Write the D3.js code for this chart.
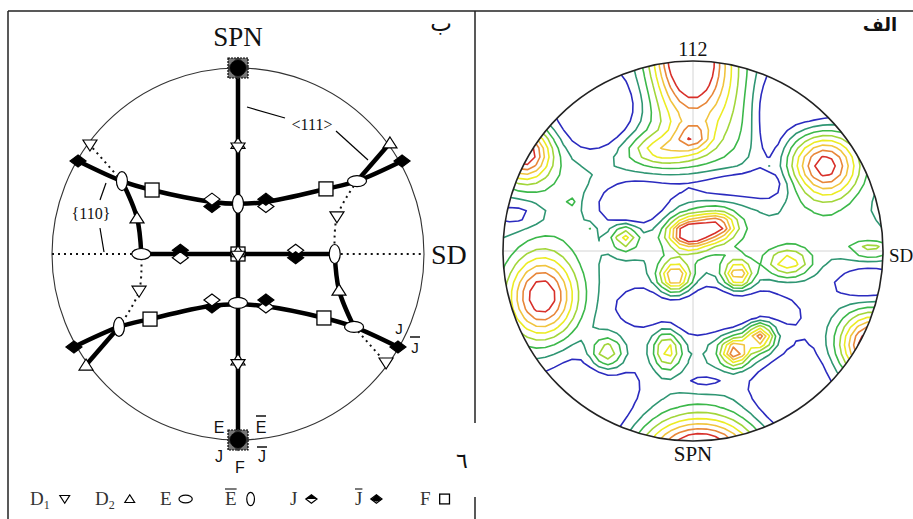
<!DOCTYPE html>
<html>
<head>
<meta charset="utf-8">
<script src="https://cdn.jsdelivr.net/npm/d3@7"></script>
<style>
body { margin: 0; background: #fff; }
svg { display: block; }
</style>
</head>
<body>
<svg id="fig" width="913" height="519"></svg>
<script>
/*globals d3 */
(function () {
    'use strict';

    // ---- left panel (ب): schematic pole figure, unit circle coords, y up ----
    var thickPaths = [
        [[0, 1], [0, -1]],
        [[-0.86, 0.5], [-0.624, 0.392], [-0.462, 0.344], [-0.14, 0.28], [0, 0.27], [0.15, 0.28], [0.473, 0.35], [0.64, 0.392], [0.882, 0.5]],
        [[0.64, 0.392], [0.817, 0.597]],
        [[-0.624, 0.392], [-0.543, 0.194], [-0.52, 0]],
        [[-0.52, 0], [0.52, 0]],
        [[0.86, -0.5], [0.624, -0.392], [0.462, -0.344], [0.14, -0.28], [0, -0.27], [-0.15, -0.28], [-0.473, -0.35], [-0.64, -0.392], [-0.882, -0.5]],
        [[-0.64, -0.392], [-0.817, -0.597]],
        [[0.624, -0.392], [0.543, -0.194], [0.52, 0]]
    ];
    var dottedPaths = [
        [[-1, 0], [-0.52, 0]],
        [[0.52, 0], [1, 0]],
        [[-0.624, 0.392], [-0.796, 0.586]],
        [[0.64, 0.392], [0.532, 0.2], [0.52, 0]],
        [[-0.64, -0.392], [-0.532, -0.2], [-0.52, 0]],
        [[0.624, -0.392], [0.796, -0.586]]
    ];
    // [type, x, y]
    var symbols = [
        ["dn", -0.796, 0.586], ["up", 0.817, 0.597],
        ["jf", -0.86, 0.5], ["jf", 0.882, 0.5],
        ["ev", -0.624, 0.392], ["eh", 0.64, 0.392],
        ["sq", -0.462, 0.344], ["sq", 0.473, 0.35],
        ["jf", -0.14, 0.255], ["jo", -0.14, 0.295],
        ["jo", 0.15, 0.255], ["jf", 0.15, 0.295],
        ["ev", 0, 0.27],
        ["up", 0, 0.595], ["dn", 0, 0.57],
        ["up", -0.543, 0.194], ["dn", 0.532, 0.2],
        ["jf", -0.31, 0.02], ["jo", -0.31, -0.02],
        ["jo", 0.31, 0.02], ["jf", 0.31, -0.02],
        ["eh", -0.52, 0], ["ev", 0.52, 0],
        ["sq", 0, 0], ["up", 0, 0.012], ["dn", 0, -0.012],
        ["dn", -0.532, -0.2], ["up", 0.543, -0.194],
        ["jf", 0.86, -0.5], ["jf", -0.882, -0.5],
        ["up", -0.817, -0.597], ["dn", 0.796, -0.586],
        ["ev", -0.64, -0.392], ["eh", 0.624, -0.392],
        ["sq", -0.473, -0.35], ["sq", 0.462, -0.344],
        ["jf", -0.14, -0.285], ["jo", -0.14, -0.247],
        ["jo", 0.15, -0.285], ["jf", 0.15, -0.247],
        ["eh", 0, -0.263],
        ["up", 0, -0.57], ["dn", 0, -0.595],
        ["pole", 0, 1], ["pole", 0, -1]
    ];
    var legendLabels = ["D", "D", "E", "E", "J", "J", "F"];
    var legendSubs = ["1", "2", "", "", "", "", ""];
    var legendBars = [false, false, false, true, false, true, false];
    var legendSyms = ["dn", "up", "eh", "ev", "jt", "jb", "sq"];

    // ---- right panel (الف): 112 pole figure, density peaks [x, y, amp, sx, sy] ----
    var base = 1.5;
    var peaks = [
        [-0.026, 1.068, 8.5, 0.132, 0.237],
        [0.142, 0.847, 2.5, 0.184, 0.21],
        [0, 0.6, 3, 0.063, 0.047],
        [-0.174, 0.532, 2.5, 0.116, 0.053],
        [-0.121, 0.558, 1.5, 0.263, 0.132],
        [-0.889, 0.516, 7.5, 0.1, 0.1],
        [0.695, 0.447, 7.3, 0.126, 0.126],
        [-0.016, 0.095, 7, 0.074, 0.053],
        [0.132, 0.132, 5, 0.063, 0.047],
        [0.037, 0.1, 2, 0.21, 0.13],
        [-0.095, -0.137, 5.8, 0.058, 0.058],
        [0.237, -0.126, 5.5, 0.053, 0.053],
        [0.5, -0.063, 4, 0.084, 0.053],
        [-0.358, 0.074, 3.8, 0.047, 0.047],
        [-0.795, -0.242, 7.5, 0.13, 0.16],
        [-0.453, -0.537, 4, 0.063, 0.063],
        [-0.137, -0.521, 4.2, 0.053, 0.074],
        [0.221, -0.532, 5.5, 0.047, 0.047],
        [0.353, -0.447, 5.5, 0.047, 0.047],
        [0.289, -0.489, 2, 0.158, 0.095],
        [0.942, -0.495, 8, 0.116, 0.116],
        [0.037, -1.053, 7, 0.21, 0.116],
        [0.037, -1.016, 1.5, 0.263, 0.184],
        [0.942, 0.005, 3, 0.079, 0.026],
        [-0.621, 0.268, 1.2, 0.26, 0.18],
        [0.721, 0.084, 1, 0.24, 0.1],
        [-0.647, 0.253, 1.3, 0.021, 0.021],
        [-0.553, 0.111, 1.3, 0.021, 0.021],
        [0.395, 0.447, 1.2, 0.021, 0.021],
        // low pockets
        [-0.5, 0.721, -3, 0.147, 0.147],
        [0.589, 0.821, -2.5, 0.21, 0.147],
        [0.405, 0.584, -1.5, 0.063, 0.184],
        [-0.321, 0.242, -3, 0.158, 0.095],
        [0.195, 0.347, -2, 0.237, 0.053],
        [0.132, -0.326, -2.6, 0.221, 0.089],
        [-0.279, -0.284, -1.6, 0.079, 0.053],
        [-0.568, -0.826, -2.4, 0.2, 0.2],
        [0.511, -0.747, -2.4, 0.158, 0.2],
        [0.921, -0.179, -1.8, 0.116, 0.063],
        [-0.921, 0.195, -1.6, 0.105, 0.053],
        [0.063, -0.689, -1.3, 0.084, 0.032]
    ];
    var levels = [1, 2, 3, 4, 5, 6, 7, 8];
    var levelColors = ["#2b2bbf", "#2f9673", "#3cb84a", "#a2d63a", "#ecec24", "#f1c43e", "#e8873a", "#d8302a"];

    var svg = d3.select("#fig");
    var serif = "'Liberation Serif', 'Times New Roman', serif";
    var sans = "'Liberation Sans', Arial, sans-serif";
    var arabic = "'DejaVu Sans', sans-serif";

    // frame
    var frame = [[8, 11, 913, 11], [8, 11, 8, 519], [475, 11, 475, 423], [475, 497, 475, 519]];
    svg.selectAll("line.frame")
        .data(frame)
        .enter()
        .append("line")
        .attr("class", "frame")
        .attr("x1", function (d) { return d[0]; })
        .attr("y1", function (d) { return d[1]; })
        .attr("x2", function (d) { return d[2]; })
        .attr("y2", function (d) { return d[3]; })
        .attr("stroke", "#222")
        .attr("stroke-width", 1.5);

    // ---------------- left panel ----------------
    var xL = d3.scaleLinear().domain([-1, 1]).range([52, 424]);
    var yL = d3.scaleLinear().domain([-1, 1]).range([440, 68]);
    var left = svg.append("g");

    left.append("circle")
        .attr("cx", xL(0))
        .attr("cy", yL(0))
        .attr("r", xL(1) - xL(0))
        .attr("fill", "none")
        .attr("stroke", "#333")
        .attr("stroke-width", 1.1);

    var lineL = d3.line()
        .x(function (d) { return xL(d[0]); })
        .y(function (d) { return yL(d[1]); })
        .curve(d3.curveCatmullRom);

    left.selectAll("path.dot")
        .data(dottedPaths)
        .enter()
        .append("path")
        .attr("d", lineL)
        .attr("fill", "none")
        .attr("stroke", "#111")
        .attr("stroke-width", 2)
        .attr("stroke-dasharray", "2,4");

    left.selectAll("path.thick")
        .data(thickPaths)
        .enter()
        .append("path")
        .attr("d", lineL)
        .attr("fill", "none")
        .attr("stroke", "#000")
        .attr("stroke-width", 4.5)
        .attr("stroke-linejoin", "round");

    function drawSymbol(g, type, s) {
        var k = s || 1;
        if (type === "up") {
            g.append("path").attr("d", "M0," + (-6 * k) + "L" + (7 * k) + "," + (5 * k) + "L" + (-7 * k) + "," + (5 * k) + "Z")
                .attr("fill", "#fff").attr("stroke", "#000").attr("stroke-width", 1.2);
        } else if (type === "dn") {
            g.append("path").attr("d", "M0," + (6 * k) + "L" + (7 * k) + "," + (-5 * k) + "L" + (-7 * k) + "," + (-5 * k) + "Z")
                .attr("fill", "#fff").attr("stroke", "#000").attr("stroke-width", 1.2);
        } else if (type === "ev" || type === "eh") {
            g.append("ellipse")
                .attr("rx", (type === "ev" ? 5.5 : 9.5) * k)
                .attr("ry", (type === "ev" ? 9.5 : 5.5) * k)
                .attr("fill", "#fff").attr("stroke", "#000").attr("stroke-width", 1.2);
        } else if (type === "sq") {
            g.append("rect").attr("x", -7 * k).attr("y", -7 * k).attr("width", 14 * k).attr("height", 14 * k)
                .attr("fill", "#fff").attr("stroke", "#000").attr("stroke-width", 1.3);
        } else if (type === "jf" || type === "jo") {
            g.append("path").attr("d", "M0," + (-6 * k) + "L" + (8 * k) + ",0L0," + (6 * k) + "L" + (-8 * k) + ",0Z")
                .attr("fill", type === "jf" ? "#000" : "#fff").attr("stroke", "#000").attr("stroke-width", 1.2);
        } else if (type === "jt" || type === "jb") {
            g.append("path").attr("d", "M0," + (-6 * k) + "L" + (8 * k) + ",0L0," + (6 * k) + "L" + (-8 * k) + ",0Z")
                .attr("fill", "#fff").attr("stroke", "#000").attr("stroke-width", 1.2);
            g.append("path").attr("d", type === "jt"
                    ? "M0," + (-6 * k) + "L" + (8 * k) + ",0L" + (-8 * k) + ",0Z"
                    : "M0," + (-6 * k) + "L" + (8 * k) + "," + (1 * k) + "L0," + (4 * k) + "L" + (-8 * k) + "," + (1 * k) + "Z")
                .attr("fill", "#000");
        } else if (type === "pole") {
            g.append("rect").attr("x", -10).attr("y", -10).attr("width", 20).attr("height", 20)
                .attr("fill", "#777").attr("stroke", "#000").attr("stroke-width", 1.2).attr("stroke-dasharray", "2,1");
            g.append("rect").attr("x", -8).attr("y", -8).attr("width", 16).attr("height", 16)
                .attr("transform", "rotate(45)").attr("fill", "#333");
            g.append("circle").attr("r", 8).attr("fill", "#000");
        }
    }

    left.selectAll("g.sym")
        .data(symbols)
        .enter()
        .append("g")
        .attr("class", "sym")
        .attr("transform", function (d) { return "translate(" + xL(d[1]) + "," + yL(d[2]) + ")"; })
        .each(function (d) { drawSymbol(d3.select(this), d[0]); });

    // leader lines for <111> and {110}
    var leaders = [[247, 107, 285, 118], [336, 131, 368, 160], [100, 200, 106, 183], [100, 228, 104, 252]];
    left.selectAll("line.lead")
        .data(leaders)
        .enter()
        .append("line")
        .attr("x1", function (d) { return d[0]; })
        .attr("y1", function (d) { return d[1]; })
        .attr("x2", function (d) { return d[2]; })
        .attr("y2", function (d) { return d[3]; })
        .attr("stroke", "#000")
        .attr("stroke-width", 1.2);

    function label(g, x, y, txt, size, family, anchor, weight) {
        return g.append("text")
            .attr("x", x)
            .attr("y", y)
            .attr("text-anchor", anchor || "middle")
            .style("font-family", family)
            .style("font-size", size + "px")
            .style("font-weight", weight || "normal")
            .style("fill", "#111")
            .text(txt);
    }

    label(left, xL(0), 46, "SPN", 27, serif);
    label(left, 431, 264, "SD", 28, serif, "start");
    label(left, 441, 31, "ب", 23, arabic);
    label(left, 312, 130, "<111>", 16, serif);
    label(left, 91, 219, "{110}", 16, serif);
    label(left, 219, 433, "E", 16, sans);
    label(left, 261, 433, "E", 16, sans);
    label(left, 219, 462, "J", 16, sans);
    label(left, 240, 473, "F", 16, sans);
    label(left, 262, 462, "J", 16, sans);
    label(left, 399, 334, "J", 15, sans);
    label(left, 415, 353, "J", 15, sans);
    // overbars
    var bars = [[256, 416, 266], [257, 447, 267], [410, 337, 420]];
    left.selectAll("line.bar")
        .data(bars)
        .enter()
        .append("line")
        .attr("x1", function (d) { return d[0]; })
        .attr("x2", function (d) { return d[2]; })
        .attr("y1", function (d) { return d[1]; })
        .attr("y2", function (d) { return d[1]; })
        .attr("stroke", "#111")
        .attr("stroke-width", 1.5);
    label(left, 462, 468, "٦", 22, arabic);

    // legend row
    var xLeg = d3.scalePoint().domain(d3.range(legendLabels.length)).range([30, 420]);
    var leg = left.selectAll("g.leg")
        .data(legendLabels)
        .enter()
        .append("g")
        .attr("transform", function (d, i) { return "translate(" + xLeg(i) + ",505)"; });
    leg.each(function (d, i) {
        var g = d3.select(this);
        var t = g.append("text")
            .style("font-family", serif)
            .style("font-size", "19px")
            .style("fill", "#333")
            .text(d);
        var w = t.node().getComputedTextLength();
        if (legendSubs[i]) {
            g.append("text")
                .attr("x", w)
                .attr("y", 4)
                .style("font-family", serif)
                .style("font-size", "12px")
                .style("fill", "#333")
                .text(legendSubs[i]);
            w += 7;
        }
        if (legendBars[i]) {
            g.append("line").attr("x1", 0).attr("x2", w).attr("y1", -16).attr("y2", -16)
                .attr("stroke", "#333").attr("stroke-width", 1.3);
        }
        var sg = g.append("g").attr("transform", "translate(" + (w + 14) + ",-6)");
        drawSymbol(sg, legendSyms[i], 0.7);
    });

    // ---------------- right panel ----------------
    var xR = d3.scaleLinear().domain([-1, 1]).range([503, 883]);
    var yR = d3.scaleLinear().domain([-1, 1]).range([441, 61]);
    var right = svg.append("g");

    svg.append("defs")
        .append("clipPath")
        .attr("id", "disc")
        .append("circle")
        .attr("cx", xR(0))
        .attr("cy", yR(0))
        .attr("r", xR(1) - xR(0));

    // grid axes inside the disc
    right.append("line")
        .attr("x1", xR(0)).attr("x2", xR(0)).attr("y1", yR(1)).attr("y2", yR(-1))
        .attr("stroke", "#d4d4d4").attr("stroke-width", 1);
    right.append("line")
        .attr("x1", xR(-1)).attr("x2", xR(1)).attr("y1", yR(0)).attr("y2", yR(0))
        .attr("stroke", "#d4d4d4").attr("stroke-width", 1);

    function density(x, y) {
        var v = base;
        peaks.forEach(function (p) {
            var dx = (x - p[0]) / p[3], dy = (y - p[1]) / p[4];
            v += p[2] * Math.exp(-0.5 * (dx * dx + dy * dy));
        });
        return v;
    }

    var n = 46, lo = -1.06, hi = 1.06, step = (hi - lo) / (n - 1);
    var values = new Array(n * n);
    var i, j;
    for (j = 0; j < n; j += 1) {
        for (i = 0; i < n; i += 1) {
            values[i + j * n] = density(lo + i * step, hi - j * step);
        }
    }
    var contours = d3.contours().size([n, n]).thresholds(levels)(values);
    var k = xR(step) - xR(0);
    var proj = d3.geoIdentity()
        .scale(k)
        .translate([xR(lo - step / 2), yR(hi + step / 2)]);
    var path = d3.geoPath(proj);

    right.append("g")
        .attr("clip-path", "url(#disc)")
        .selectAll("path")
        .data(contours)
        .enter()
        .append("path")
        .attr("d", path)
        .attr("fill", "none")
        .attr("stroke", function (d, idx) { return levelColors[idx]; })
        .attr("stroke-width", 1.6)
        .attr("stroke-linejoin", "round");

    right.append("circle")
        .attr("cx", xR(0))
        .attr("cy", yR(0))
        .attr("r", xR(1) - xR(0))
        .attr("fill", "none")
        .attr("stroke", "#222")
        .attr("stroke-width", 1.6);

    label(right, xR(0), 56, "112", 20, serif);
    label(right, xR(0), 461, "SPN", 21, serif);
    label(right, 889, 262, "SD", 19, serif, "start");
    label(right, 880, 31, "الف", 18, arabic, "middle", "bold");
}());
</script>
</body>
</html>
